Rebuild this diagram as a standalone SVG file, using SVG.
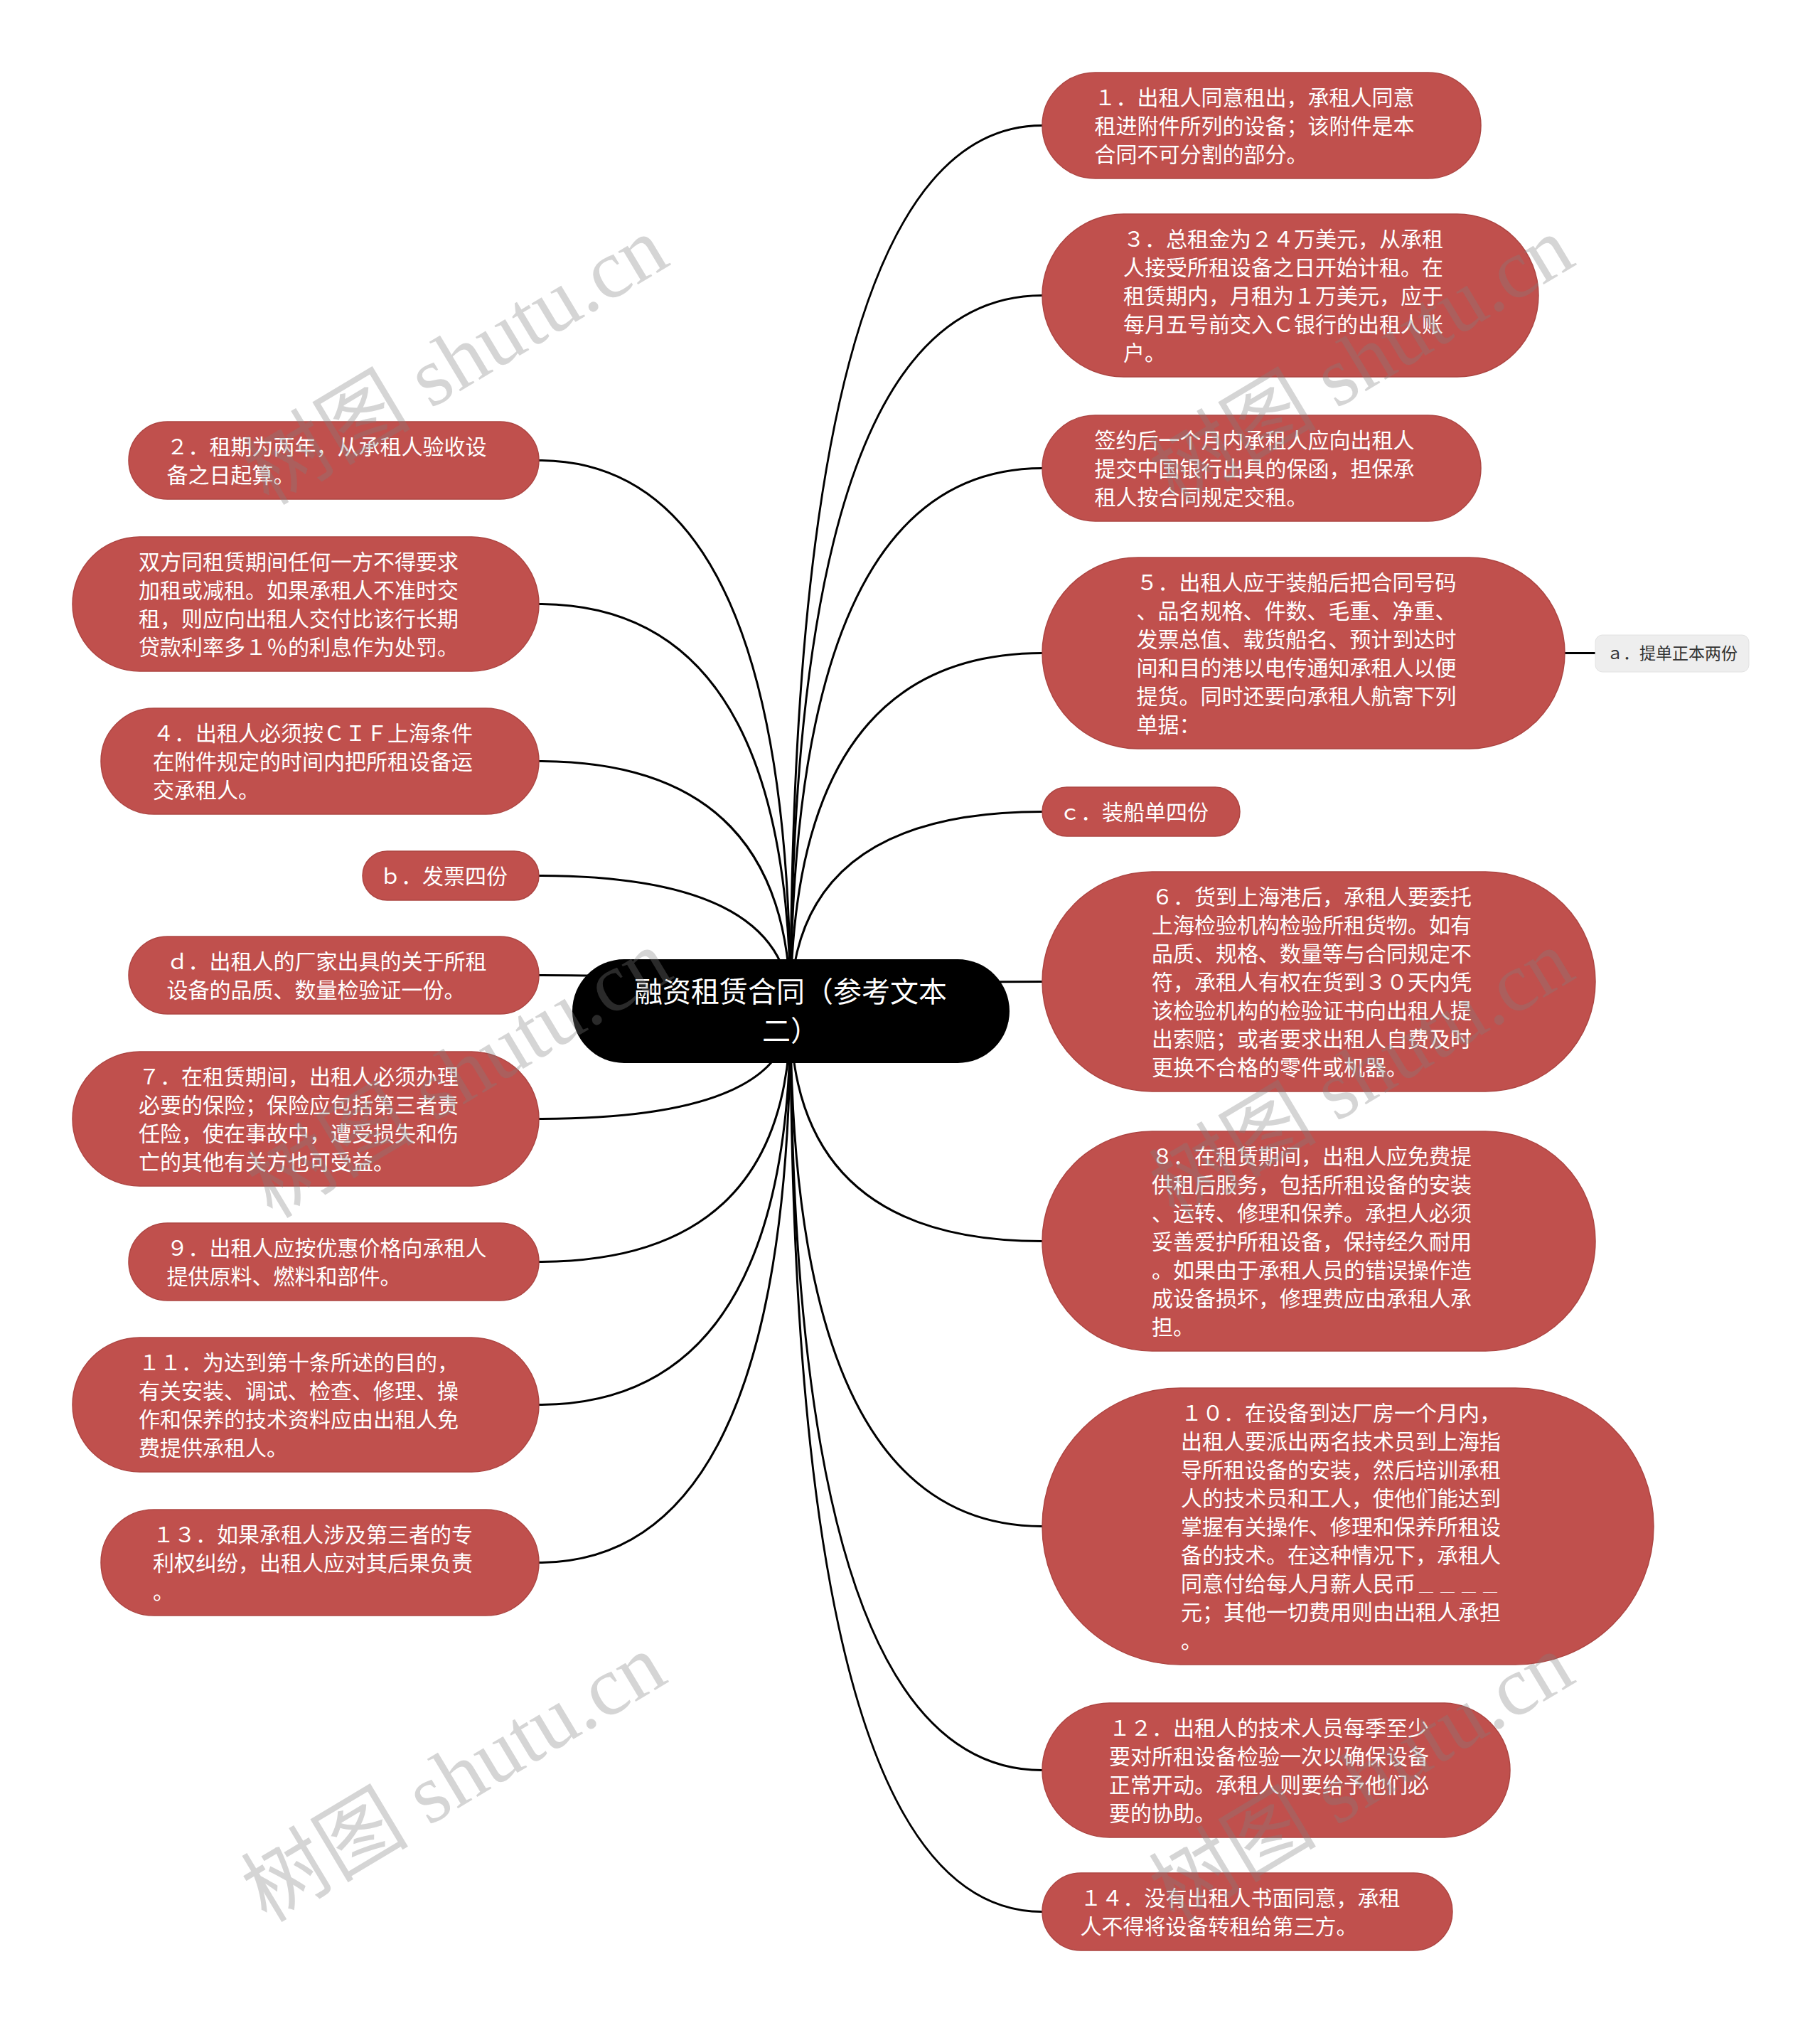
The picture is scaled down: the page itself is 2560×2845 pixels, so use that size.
<svg xmlns="http://www.w3.org/2000/svg" width="2560" height="2845" viewBox="0 0 2560 2845">
<style>
.bg{fill:#ffffff}
.conn path{fill:none;stroke:#000;stroke-width:3}
.n rect{fill:#c0504d;stroke:#ad4542;stroke-width:1.5}
.n text{font-family:"Noto Sans CJK SC","Noto Sans",sans-serif;font-size:30px;fill:#ffffff}
.root rect{fill:#000}
.root text{font-family:"Noto Sans CJK SC","Noto Sans",sans-serif;font-size:40px;fill:#ffffff;text-anchor:middle}
.sub rect{fill:#eeeeee;stroke:#e2e2e2;stroke-width:1}
.sub text{font-family:"Noto Sans CJK SC","Noto Sans",sans-serif;font-size:23px;fill:#333333;text-anchor:middle}
.wm text{font-family:"Liberation Serif","Noto Sans CJK SC",serif;font-size:118px;fill:#808080;fill-opacity:0.33}
.ul{font-size:20px;letter-spacing:10px}
</style>
<rect class="bg" x="0" y="0" width="2560" height="2845"/>
<g class="conn" id="connectors">
<path d="M1112 1422 Q1112 176.5 1466 176.5"/>
<path d="M1112 1422 Q1112 415.5 1466 415.5"/>
<path d="M1112 1422 Q1112 658.5 1466 658.5"/>
<path d="M1112 1422 Q1112 918.5 1466 918.5"/>
<path d="M1112 1422 Q1112 1141.5 1466 1141.5"/>
<path d="M1112 1422 Q1112 1380.5 1466 1380.5"/>
<path d="M1112 1422 Q1112 1745.5 1466 1745.5"/>
<path d="M1112 1422 Q1112 2146.5 1466 2146.5"/>
<path d="M1112 1422 Q1112 2489.5 1466 2489.5"/>
<path d="M1112 1422 Q1112 2688.5 1466 2688.5"/>
<path d="M1112 1422 Q1112 647.5 758 647.5"/>
<path d="M1112 1422 Q1112 849.5 758 849.5"/>
<path d="M1112 1422 Q1112 1070.5 758 1070.5"/>
<path d="M1112 1422 Q1112 1231.5 758 1231.5"/>
<path d="M1112 1422 Q1112 1371.5 758 1371.5"/>
<path d="M1112 1422 Q1112 1573.5 758 1573.5"/>
<path d="M1112 1422 Q1112 1774.5 758 1774.5"/>
<path d="M1112 1422 Q1112 1975.5 758 1975.5"/>
<path d="M1112 1422 Q1112 2197.5 758 2197.5"/>
<path d="M2201 918.5 L2244 918.5"/>
</g>
<g class="root" id="root">
<rect x="805" y="1349" width="615" height="146" rx="73" ry="73"/>
<text x="1112" y="1409">融资租赁合同（参考文本</text>
<text x="1112" y="1464">二）</text>
</g>
<g class="n" id="n1">
<rect x="1466" y="102" width="617" height="149" rx="74.5" ry="74.5"/>
<text x="1539.5" y="147.5">１．出租人同意租出，承租人同意</text>
<text x="1539.5" y="187.5">租进附件所列的设备；该附件是本</text>
<text x="1539.5" y="227.5">合同不可分割的部分。</text>
</g>
<g class="n" id="n3">
<rect x="1466" y="301" width="698" height="229" rx="114.5" ry="114.5"/>
<text x="1580" y="346.5">３．总租金为２４万美元，从承租</text>
<text x="1580" y="386.5">人接受所租设备之日开始计租。在</text>
<text x="1580" y="426.5">租赁期内，月租为１万美元，应于</text>
<text x="1580" y="466.5">每月五号前交入Ｃ银行的出租人账</text>
<text x="1580" y="506.5">户。</text>
</g>
<g class="n" id="nqy">
<rect x="1466" y="584" width="617" height="149" rx="74.5" ry="74.5"/>
<text x="1539.5" y="629.5">签约后一个月内承租人应向出租人</text>
<text x="1539.5" y="669.5">提交中国银行出具的保函，担保承</text>
<text x="1539.5" y="709.5">租人按合同规定交租。</text>
</g>
<g class="n" id="n5">
<rect x="1466" y="784" width="735" height="269" rx="134.5" ry="134.5"/>
<text x="1598.5" y="829.5">５．出租人应于装船后把合同号码</text>
<text x="1598.5" y="869.5">、品名规格、件数、毛重、净重、</text>
<text x="1598.5" y="909.5">发票总值、载货船名、预计到达时</text>
<text x="1598.5" y="949.5">间和目的港以电传通知承租人以便</text>
<text x="1598.5" y="989.5">提货。同时还要向承租人航寄下列</text>
<text x="1598.5" y="1029.5">单据：</text>
</g>
<g class="sub" id="na">
<rect x="2244" y="893" width="216" height="52" rx="10" ry="10"/>
<text x="2352" y="927">ａ．提单正本两份</text>
</g>
<g class="n" id="nc">
<rect x="1466" y="1107" width="278" height="69" rx="34.5" ry="34.5"/>
<text x="1490" y="1152.5">ｃ．装船单四份</text>
</g>
<g class="n" id="n6">
<rect x="1466" y="1226" width="778" height="309" rx="154.5" ry="154.5"/>
<text x="1620" y="1271.5">６．货到上海港后，承租人要委托</text>
<text x="1620" y="1311.5">上海检验机构检验所租货物。如有</text>
<text x="1620" y="1351.5">品质、规格、数量等与合同规定不</text>
<text x="1620" y="1391.5">符，承租人有权在货到３０天内凭</text>
<text x="1620" y="1431.5">该检验机构的检验证书向出租人提</text>
<text x="1620" y="1471.5">出索赔；或者要求出租人自费及时</text>
<text x="1620" y="1511.5">更换不合格的零件或机器。</text>
</g>
<g class="n" id="n8">
<rect x="1466" y="1591" width="778" height="309" rx="154.5" ry="154.5"/>
<text x="1620" y="1636.5">８．在租赁期间，出租人应免费提</text>
<text x="1620" y="1676.5">供租后服务，包括所租设备的安装</text>
<text x="1620" y="1716.5">、运转、修理和保养。承担人必须</text>
<text x="1620" y="1756.5">妥善爱护所租设备，保持经久耐用</text>
<text x="1620" y="1796.5">。如果由于承租人员的错误操作造</text>
<text x="1620" y="1836.5">成设备损坏，修理费应由承租人承</text>
<text x="1620" y="1876.5">担。</text>
</g>
<g class="n" id="n10">
<rect x="1466" y="1952" width="860" height="389" rx="194.5" ry="194.5"/>
<text x="1661" y="1997.5">１０．在设备到达厂房一个月内，</text>
<text x="1661" y="2037.5">出租人要派出两名技术员到上海指</text>
<text x="1661" y="2077.5">导所租设备的安装，然后培训承租</text>
<text x="1661" y="2117.5">人的技术员和工人，使他们能达到</text>
<text x="1661" y="2157.5">掌握有关操作、修理和保养所租设</text>
<text x="1661" y="2197.5">备的技术。在这种情况下，承租人</text>
<text x="1661" y="2237.5">同意付给每人月薪人民币<tspan class="ul" dx="5">＿＿＿＿</tspan></text>
<text x="1661" y="2277.5">元；其他一切费用则由出租人承担</text>
<text x="1661" y="2317.5">。</text>
</g>
<g class="n" id="n12">
<rect x="1466" y="2395" width="658" height="189" rx="94.5" ry="94.5"/>
<text x="1560" y="2440.5">１２．出租人的技术人员每季至少</text>
<text x="1560" y="2480.5">要对所租设备检验一次以确保设备</text>
<text x="1560" y="2520.5">正常开动。承租人则要给予他们必</text>
<text x="1560" y="2560.5">要的协助。</text>
</g>
<g class="n" id="n14">
<rect x="1466" y="2634" width="577" height="109" rx="54.5" ry="54.5"/>
<text x="1519.5" y="2679.5">１４．没有出租人书面同意，承租</text>
<text x="1519.5" y="2719.5">人不得将设备转租给第三方。</text>
</g>
<g class="n" id="n2">
<rect x="181" y="593" width="577" height="109" rx="54.5" ry="54.5"/>
<text x="234.5" y="638.5">２．租期为两年，从承租人验收设</text>
<text x="234.5" y="678.5">备之日起算。</text>
</g>
<g class="n" id="nsf">
<rect x="102" y="755" width="656" height="189" rx="94.5" ry="94.5"/>
<text x="195" y="800.5">双方同租赁期间任何一方不得要求</text>
<text x="195" y="840.5">加租或减租。如果承租人不准时交</text>
<text x="195" y="880.5">租，则应向出租人交付比该行长期</text>
<text x="195" y="920.5">贷款利率多１％的利息作为处罚。</text>
</g>
<g class="n" id="n4">
<rect x="142" y="996" width="616" height="149" rx="74.5" ry="74.5"/>
<text x="215" y="1041.5">４．出租人必须按ＣＩＦ上海条件</text>
<text x="215" y="1081.5">在附件规定的时间内把所租设备运</text>
<text x="215" y="1121.5">交承租人。</text>
</g>
<g class="n" id="nb">
<rect x="510" y="1197" width="248" height="69" rx="34.5" ry="34.5"/>
<text x="534" y="1242.5">ｂ．发票四份</text>
</g>
<g class="n" id="nd">
<rect x="181" y="1317" width="577" height="109" rx="54.5" ry="54.5"/>
<text x="234.5" y="1362.5">ｄ．出租人的厂家出具的关于所租</text>
<text x="234.5" y="1402.5">设备的品质、数量检验证一份。</text>
</g>
<g class="n" id="n7">
<rect x="102" y="1479" width="656" height="189" rx="94.5" ry="94.5"/>
<text x="195" y="1524.5">７．在租赁期间，出租人必须办理</text>
<text x="195" y="1564.5">必要的保险；保险应包括第三者责</text>
<text x="195" y="1604.5">任险，使在事故中，遭受损失和伤</text>
<text x="195" y="1644.5">亡的其他有关方也可受益。</text>
</g>
<g class="n" id="n9">
<rect x="181" y="1720" width="577" height="109" rx="54.5" ry="54.5"/>
<text x="234.5" y="1765.5">９．出租人应按优惠价格向承租人</text>
<text x="234.5" y="1805.5">提供原料、燃料和部件。</text>
</g>
<g class="n" id="n11">
<rect x="102" y="1881" width="656" height="189" rx="94.5" ry="94.5"/>
<text x="195" y="1926.5">１１．为达到第十条所述的目的，</text>
<text x="195" y="1966.5">有关安装、调试、检查、修理、操</text>
<text x="195" y="2006.5">作和保养的技术资料应由出租人免</text>
<text x="195" y="2046.5">费提供承租人。</text>
</g>
<g class="n" id="n13">
<rect x="142" y="2123" width="616" height="149" rx="74.5" ry="74.5"/>
<text x="215" y="2168.5">１３．如果承租人涉及第三者的专</text>
<text x="215" y="2208.5">利权纠纷，出租人应对其后果负责</text>
<text x="215" y="2248.5">。</text>
</g>
<g class="wm" id="watermarks">
<text transform="translate(378 712) rotate(-31)">树图 shutu.cn</text>
<text transform="translate(1652 712) rotate(-31)">树图 shutu.cn</text>
<text transform="translate(383 1715) rotate(-31)">树图 shutu.cn</text>
<text transform="translate(1652 1715) rotate(-31)">树图 shutu.cn</text>
<text transform="translate(375 2705) rotate(-31)">树图 shutu.cn</text>
<text transform="translate(1652 2705) rotate(-31)">树图 shutu.cn</text>
</g>
</svg>
